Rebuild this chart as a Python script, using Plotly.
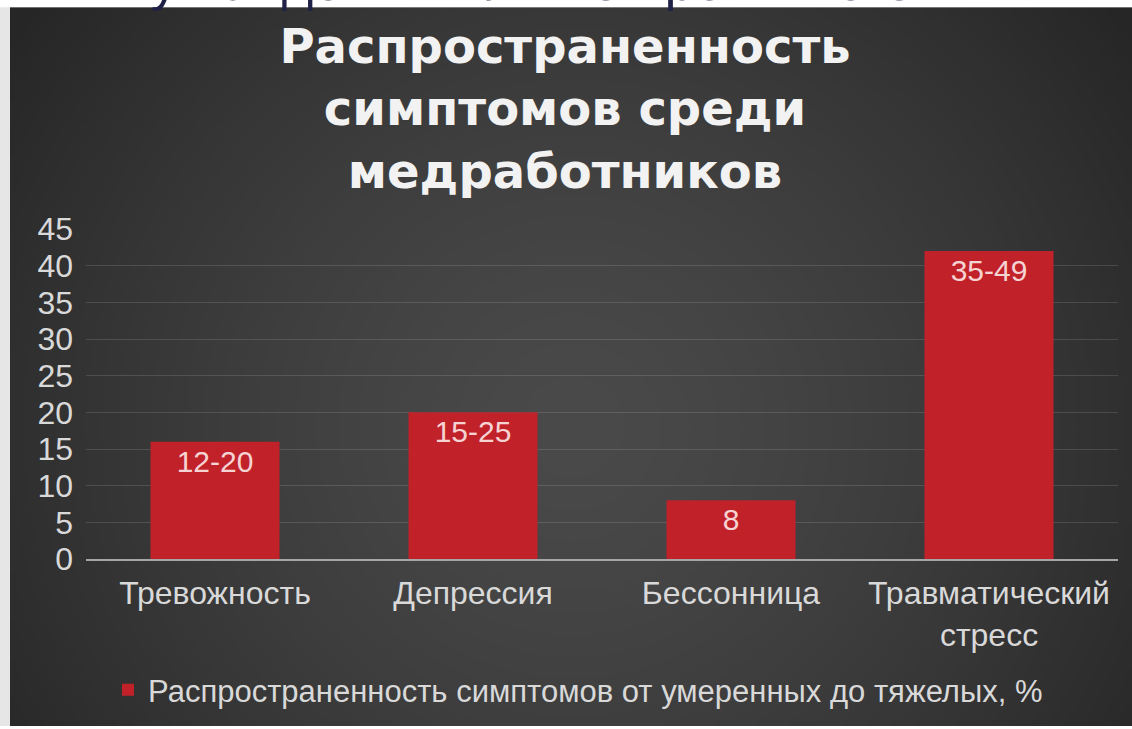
import base64
import struct
import zlib

import numpy as np
import plotly.graph_objects as go

# --- data -------------------------------------------------------------
categories = ["Тревожность", "Депрессия", "Бессонница", "Травматический<br>стресс"]
values = [16, 20, 8, 42]
value_labels = ["12-20", "15-25", "8", "35-49"]
series_name = "Распространенность симптомов от умеренных до тяжелых, %"
title_lines = ["Распространенность", "симптомов среди", "медработников"]
y_ticks = [0, 5, 10, 15, 20, 25, 30, 35, 40, 45]
slide_caption = "пику пандемии или во время него"

# --- figure geometry (pixels) ----------------------------------------
W, H = 1132, 729
ML, MR, MT, MB = 86, 14, 229, 168
PW, PH = W - ML - MR, H - MT - MB


def px_to_paper_x(px):
    return (px - ML) / PW


def py_to_paper_y(py):
    return (H - MB - py) / PH


def png_uri(arr):
    """Encode an RGB uint8 array as a PNG data URI."""
    h, w, _ = arr.shape
    raw = b"".join(b"\x00" + arr[r].tobytes() for r in range(h))

    def chunk(tag, data):
        return (struct.pack(">I", len(data)) + tag + data
                + struct.pack(">I", zlib.crc32(tag + data) & 0xFFFFFFFF))

    png = (b"\x89PNG\r\n\x1a\n"
           + chunk(b"IHDR", struct.pack(">IIBBBBB", w, h, 8, 2, 0, 0, 0))
           + chunk(b"IDAT", zlib.compress(raw, 9))
           + chunk(b"IEND", b""))
    return "data:image/png;base64," + base64.b64encode(png).decode()


# dark slide panel with a soft radial highlight
gw, gh = 281, 181
yy, xx = np.mgrid[0:gh, 0:gw]
cx, cy = gw * 0.50, gh * 0.58
d = np.sqrt(((xx - cx) / (gw * 0.62)) ** 2 + ((yy - cy) / (gh * 0.95)) ** 2)
d = np.clip(d, 0, 1)
shade = 74 - (74 - 38) * d ** 1.4
panel = np.repeat(shade[:, :, None], 3, axis=2).astype(np.uint8)
panel_src = png_uri(panel)

panel_left, panel_top = 10, 6

fig = go.Figure()

fig.add_trace(go.Bar(
    x=categories,
    y=values,
    name=series_name,
    text=value_labels,
    textposition="inside",
    insidetextanchor="end",
    textfont=dict(family="Liberation Sans, Arial, sans-serif", size=30, color="#f6d3d3"),
    marker=dict(color="#c1222a", line=dict(width=0)),
    showlegend=True,
))

fig.update_layout(
    width=W,
    height=H,
    autosize=False,
    margin=dict(l=ML, r=MR, t=MT, b=MB, pad=0),
    paper_bgcolor="#ffffff",
    plot_bgcolor="rgba(0,0,0,0)",
    bargap=0.5,
    font=dict(family="Liberation Sans, Arial, sans-serif", color="#d9d9d9"),
    title=dict(
        text="<br>".join(title_lines),
        x=565 / W,
        xref="container",
        xanchor="center",
        y=1 - 63 / H,
        yref="container",
        yanchor="middle",
        font=dict(family="DejaVu Sans, sans-serif", size=48, color="#f2f2f2", weight="bold"),
    ),
    xaxis=dict(
        showgrid=False,
        showline=True,
        linecolor="#a6a6a6",
        linewidth=2,
        ticks="",
        ticklabelstandoff=5,
        tickfont=dict(size=32, color="#d9d9d9"),
        fixedrange=True,
    ),
    yaxis=dict(
        range=[0, 45],
        tickvals=y_ticks,
        showgrid=True,
        gridcolor="rgba(255,255,255,0.13)",
        gridwidth=1,
        zeroline=False,
        showline=False,
        ticks="",
        ticklabelstandoff=12,
        tickfont=dict(size=32, color="#d9d9d9"),
        fixedrange=True,
    ),
    legend=dict(
        orientation="h",
        x=px_to_paper_x(578),
        xanchor="center",
        y=py_to_paper_y(693),
        yanchor="middle",
        bgcolor="rgba(0,0,0,0)",
        font=dict(size=31, color="#d9d9d9"),
    ),
    images=[dict(
        source=panel_src,
        xref="paper",
        yref="paper",
        x=px_to_paper_x(panel_left),
        y=py_to_paper_y(panel_top),
        sizex=(W - panel_left) / PW,
        sizey=(H - panel_top) / PH,
        xanchor="left",
        yanchor="top",
        sizing="stretch",
        layer="below",
    )],
    shapes=[dict(
        type="rect",
        xref="paper",
        yref="paper",
        x0=px_to_paper_x(0),
        x1=px_to_paper_x(panel_left),
        y0=py_to_paper_y(H),
        y1=py_to_paper_y(panel_top),
        fillcolor="#e6e6e6",
        line=dict(width=0),
        layer="below",
    )],
    annotations=[dict(
        text=slide_caption,
        xref="paper",
        yref="paper",
        x=px_to_paper_x(65),
        y=py_to_paper_y(-21),
        xanchor="left",
        yanchor="middle",
        showarrow=False,
        font=dict(family="Liberation Sans, Arial, sans-serif", size=54, color="#1f2146"),
    )],
)

fig.write_html("out.html")
